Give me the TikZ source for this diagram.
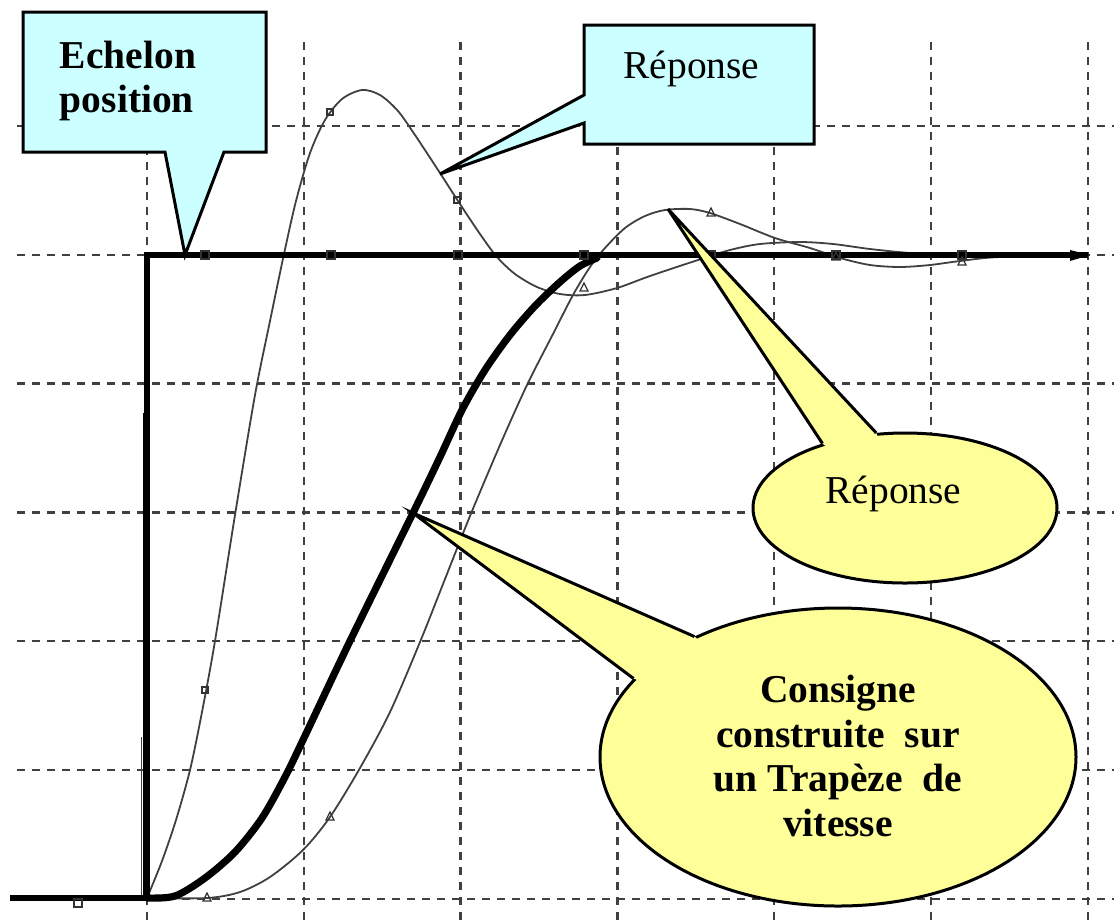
\documentclass[tikz,border=0pt]{standalone}
\usepackage{fontspec}
\setmainfont{Liberation Serif}
\usetikzlibrary{shapes.geometric}
\definecolor{bleuclair}{HTML}{CCFFFF}
\definecolor{jauneclair}{HTML}{FFFF99}
\newcommand{\bulfont}{\fontsize{19.75}{22.3}\selectfont}

\tikzset{
  grille/.style={black!75, line width=1.2pt, dash pattern=on 4pt off 3.5pt},
  reponse/.style={black!75, line width=0.9pt},
  consigne/.style={black, line width=3.6pt, line cap=round, line join=round},
  echelon/.style={black, line width=2.8pt},
  marque/.style={black!80, line width=0.6pt},
  cadre/.style={draw=black, line width=1.5pt, fill=bleuclair},
  bulle/.style={ellipse, draw=black, line width=1.5pt, fill=jauneclair, inner sep=0pt}
}

\begin{document}
\begin{tikzpicture}[x=0.5pt, y=-0.5pt]
  \useasboundingbox (0,0) rectangle (1114,923);

  % grille pointillee
  \foreach \k in {0,...,6}
    \draw[grille] ({147+156.8*\k},42) -- ({147+156.8*\k},920);
  \foreach \k in {0,...,6}
    \draw[grille] (17,{126+128.8*\k}) -- (1114,{126+128.8*\k});

  % reponse a l'echelon
  \draw[reponse] (141.5,737) -- (141.5,898);
  \draw[reponse, black] (144,413) -- (144,898);
  \draw[reponse] plot[smooth, tension=0.5] coordinates {
    (147,898) (162,861) (176,820) (190,770) (202,712) (215,641) (235,515)
    (255,395) (270,321) (284,254) (296,201) (310,153) (325,120) (342,99)
    (362,90) (380,95) (398,111) (415,135) (440,173) (458,201)
    (480,234) (497,257) (515,274) (537,287) (560,294) (585,295) (617,288)
    (650,276) (698,260) (730,250) (760,244) (800,242) (833,244) (870,249)
    (910,253) (950,255) (1000,256) (1088,256)};

  % reponse au trapeze
  \draw[reponse] plot[smooth, tension=0.5] coordinates {
    (147,898) (207,898) (240,892) (270,877) (303,850) (330,817) (360,768)
    (390,712) (420,642) (445,579) (470,516) (500,445) (527,385) (553,334)
    (573,295) (590,267) (605,248) (625,228) (645,216) (665,210) (690,209)
    (710,213) (740,224) (775,238) (810,248) (840,258) (870,265) (900,267)
    (930,265) (960,261) (1000,257) (1088,256)};

  % consigne trapeze de vitesse
  \draw[consigne] plot[smooth, tension=0.5] coordinates {
    (147,898) (175,896) (205,878) (235,852) (262,818) (285,777) (303,740)
    (350,641) (413,513) (440,457) (462,410) (485,370) (510,335) (535,306)
    (560,282) (580,266) (597,258)};

  % echelon de position
  \draw[echelon] (10,898) -- (147,898) -- (147,255) -- (1088,255);
  \fill (1070,250) -- (1090,255) -- (1070,261) -- cycle;

  % marqueurs
  \draw[marque] (74,899) rectangle (82,907);
  \foreach \mx in {205,331,458,584,711,836,962}
    \draw[marque] ({\mx-4},251) rectangle ({\mx+4},259);
  \foreach \tx/\ty in {207/898, 330/817, 584/288, 711/213, 836/257, 962/262}
    \draw[marque] ({\tx-4},{\ty+3}) -- ({\tx+4},{\ty+3}) -- (\tx,{\ty-5}) -- cycle;
  \foreach \tx/\ty in {205/690, 330/112, 457/200, 709/258}
    \draw[marque] ({\tx-3},{\ty-3}) rectangle ({\tx+3},{\ty+3});

  % bulle echelon
  \draw[cadre] (23,12) -- (266,12) -- (266,152) -- (224,152) -- (185,255)
    -- (165,152) -- (23,152) -- cycle;
  \node[font=\bulfont\bfseries, align=left, inner sep=0pt] (txtech) at (128,81)
    {Echelon\\position};

  % bulle reponse (haut)
  \draw[cadre] (584,25) -- (814,25) -- (814,144) -- (584,144) -- (584,123)
    -- (440,174) -- (584,95) -- cycle;
  \node[font=\bulfont, anchor=base, inner sep=0pt] (txtrep) at (691.5,78) {Réponse};

  % bulle reponse (ellipse)
  \node[bulle, minimum width=152pt, minimum height=75pt] (bulrep) at (905,508) {};
  \coordinate (pointerep) at (668,209);
  \fill[jauneclair] (pointerep) -- (bulrep.142) -- (bulrep.center) -- (bulrep.111) -- cycle;
  \draw[line width=1.5pt] (bulrep.142) -- (pointerep) -- (bulrep.111);
  \node[font=\bulfont, anchor=base, inner sep=0pt] (txtbulrep) at (893.5,503.5) {Réponse};

  % bulle consigne
  \node[bulle, minimum width=238pt, minimum height=149pt] (bulcons) at (838,757) {};
  \coordinate (pointecons) at (413,513);
  \fill[jauneclair] (pointecons) -- (bulcons.159) -- (bulcons.center) -- (bulcons.140) -- cycle;
  \draw[line width=1.5pt] (bulcons.159) -- (pointecons) -- (bulcons.140);
  \node[font=\bulfont\bfseries, align=center, inner sep=0pt] (txtcons) at (838,756)
    {Consigne\\construite~ sur\\un Trapèze~ de\\vitesse};
\end{tikzpicture}
\end{document}
